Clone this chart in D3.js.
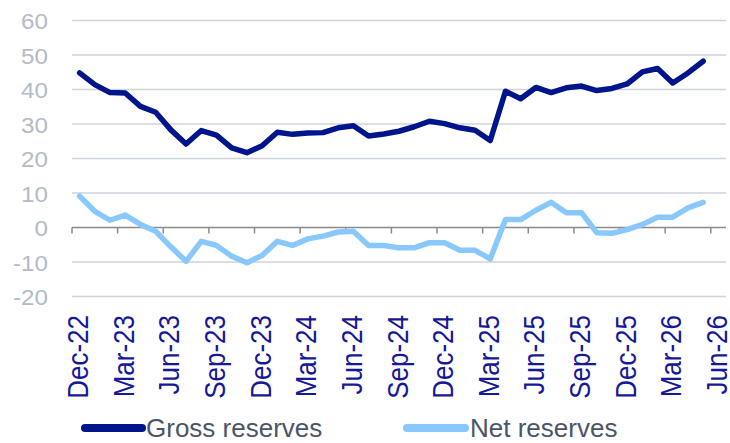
<!DOCTYPE html>
<html>
<head>
<meta charset="utf-8">
<script src="https://cdn.jsdelivr.net/npm/d3@7"></script>
<style>
  body { margin: 0; background: #fff; }
  svg { display: block; font-family: Arial, "Liberation Sans", sans-serif; }
</style>
</head>
<body>
<svg id="chart"></svg>
<script>
const width = 730,
  height = 443;

// monthly categories, Dec-22 .. Jun-26
const months = [
  "Dec-22", "Jan-23", "Feb-23", "Mar-23", "Apr-23", "May-23", "Jun-23", "Jul-23", "Aug-23",
  "Sep-23", "Oct-23", "Nov-23", "Dec-23", "Jan-24", "Feb-24", "Mar-24", "Apr-24", "May-24",
  "Jun-24", "Jul-24", "Aug-24", "Sep-24", "Oct-24", "Nov-24", "Dec-24", "Jan-25", "Feb-25",
  "Mar-25", "Apr-25", "May-25", "Jun-25", "Jul-25", "Aug-25", "Sep-25", "Oct-25", "Nov-25",
  "Dec-25", "Jan-26", "Feb-26", "Mar-26", "Apr-26", "May-26", "Jun-26"
];

const grossReserves = [
  44.8, 41.4, 39.1, 39.0, 35.1, 33.4, 28.3, 24.2, 28.1, 26.8, 23.1, 21.7, 23.7, 27.6,
  27.0, 27.4, 27.5, 28.9, 29.5, 26.5, 27.1, 27.9, 29.2, 30.8, 30.1, 28.9, 28.2, 25.2,
  39.5, 37.3, 40.6, 39.1, 40.5, 41.0, 39.7, 40.3, 41.6, 45.1, 46.1, 41.9, 44.8, 48.2
];

const netReserves = [
  9.1, 4.7, 2.1, 3.6, 0.9, -1.1, -5.6, -9.8, -4.0, -5.2, -8.3, -10.2, -8.1, -4.0,
  -5.2, -3.3, -2.5, -1.3, -1.1, -5.2, -5.2, -5.9, -5.9, -4.4, -4.4, -6.6, -6.6, -9.1,
  2.3, 2.3, 5.0, 7.3, 4.3, 4.3, -1.5, -1.7, -0.6, 0.9, 3.0, 3.0, 5.7, 7.3
];

const yTicks = [-20, -10, 0, 10, 20, 30, 40, 50, 60];

const seriesNames = ["Gross reserves", "Net reserves"];
const colors = ["#00148c", "#88c8fc"];

const svg = d3.select("#chart").attr("width", width).attr("height", height);

const x = d3.scaleBand().domain(months).range([72, 726]);
const y = d3.scaleLinear().domain([-20, 60]).range([296.5, 20.5]);

// gridlines
svg
  .append("g")
  .selectAll("line")
  .data(yTicks.filter(d => d !== 0))
  .enter()
  .append("line")
  .attr("x1", 72)
  .attr("x2", 726)
  .attr("y1", d => y(d))
  .attr("y2", d => y(d))
  .style("stroke", "#cfd3dc")
  .style("stroke-width", 1.5);

// y labels
svg
  .append("g")
  .selectAll("text")
  .data(yTicks)
  .enter()
  .append("text")
  .attr("transform", d => `translate(48,${y(d) + 8.5}) scale(1.1,1)`)
  .attr("text-anchor", "end")
  .style("font-size", "22px")
  .style("fill", "#b3bbc7")
  .text(d => d);

// zero axis with quarterly ticks
const quarterly = months.filter((m, i) => i % 3 === 0);
const axis = svg.append("g");
axis
  .append("line")
  .attr("x1", 72)
  .attr("x2", 726)
  .attr("y1", y(0))
  .attr("y2", y(0))
  .style("stroke", "#8a8a8a")
  .style("stroke-width", 1.5);
axis
  .selectAll(".tick")
  .data(quarterly)
  .enter()
  .append("line")
  .attr("class", "tick")
  .attr("x1", d => x(d))
  .attr("x2", d => x(d))
  .attr("y1", y(0))
  .attr("y2", y(0) + 6)
  .style("stroke", "#8a8a8a")
  .style("stroke-width", 1.5);

// x labels
svg
  .append("g")
  .selectAll("text")
  .data(quarterly)
  .enter()
  .append("text")
  .attr("transform", d => `translate(${x(d) + x.bandwidth() / 2 + 8.5},315) rotate(-90) scale(1,1.15)`)
  .attr("text-anchor", "end")
  .style("font-size", "26px")
  .style("fill", "#16189a")
  .text(d => d);

// series
const line = d3
  .line()
  .x((d, i) => x(months[i]) + x.bandwidth() / 2)
  .y(d => y(d));

[grossReserves, netReserves].forEach((s, k) => {
  svg
    .append("path")
    .datum(s)
    .attr("d", line)
    .style("fill", "none")
    .style("stroke", colors[k])
    .style("stroke-width", 5.5)
    .style("stroke-linejoin", "round")
    .style("stroke-linecap", "round");
});

// legend
const legendX = [85, 407];
const legend = svg
  .append("g")
  .selectAll("g")
  .data(seriesNames)
  .enter()
  .append("g")
  .attr("transform", (d, i) => `translate(${legendX[i]},428)`);
legend
  .append("line")
  .attr("x1", 0)
  .attr("x2", (d, i) => (i === 0 ? 57 : 58))
  .style("stroke", (d, i) => colors[i])
  .style("stroke-width", 8)
  .style("stroke-linecap", "round");
legend
  .append("text")
  .attr("x", (d, i) => (i === 0 ? 61 : 63))
  .attr("y", 9)
  .style("font-size", "26px")
  .style("fill", "#4b5567")
  .text(d => d);
</script>
</body>
</html>
